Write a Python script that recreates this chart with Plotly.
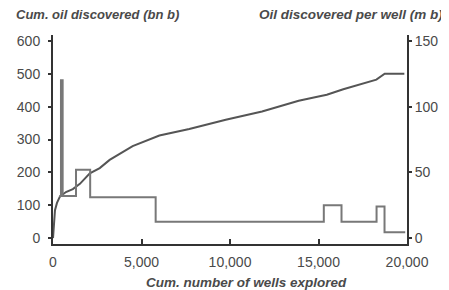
import plotly.graph_objects as go

# Cumulative oil discovered (bn b) vs cumulative wells explored
cum_wells = [0, 56, 112, 225, 390, 730, 1120, 1520, 2080, 2640, 3200, 4500, 5620, 6010,
             7700, 8260, 9760, 11810, 13600, 13880, 15000, 15470, 16400, 18270, 18740, 19850]
cum_oil = [0, 55, 85, 107, 126, 140, 149, 165, 197, 213, 238, 280, 303, 312,
           332, 340, 360, 385, 413, 418, 431, 436, 453, 482, 500, 500]

# Oil discovered per well (m b), step series
step_wells = [350, 450, 545, 1300, 2100, 5800, 15300, 16300, 18280, 18730, 19900]
per_well = [32, 120, 32, 52, 31, 12.5, 25, 12.5, 24, 4.5, 4.5]

x_tickvals = [0, 5000, 10000, 15000, 20000]
x_ticktext = ["0", "5,000", "10,000", "15,000", "20,000"]
y1_tickvals = [0, 100, 200, 300, 400, 500, 600]
y2_tickvals = [0, 50, 100, 150]

font_col = "#4a4a4a"
axis_col = "#333333"
FAM = "Liberation Sans, Arial, sans-serif"

# page body has an 8px margin: figure spans window x 8..449, y 8..290
W, H = 441, 282
L, R, T, B = 45, 42, 27, 46
PW = W - L - R

fig = go.Figure()
fig.add_trace(go.Scatter(x=cum_wells, y=cum_oil, mode="lines",
                         line=dict(color="#555555", width=2), yaxis="y"))
fig.add_trace(go.Scatter(x=step_wells, y=per_well, mode="lines", line_shape="hv",
                         line=dict(color="#787878", width=2), yaxis="y2"))

tickfont = dict(family=FAM, size=14, color=font_col)
titlefont = dict(family=FAM, size=13.5, color=font_col)

fig.update_layout(
    width=W, height=H,
    margin=dict(l=L, r=R, t=T, b=B, autoexpand=False),
    paper_bgcolor="white", plot_bgcolor="white",
    showlegend=False,
    xaxis=dict(range=[0, 20000], tickvals=x_tickvals, ticktext=x_ticktext,
               showline=True, linecolor=axis_col, linewidth=2,
               ticks="inside", ticklen=5, tickwidth=2, tickcolor=axis_col,
               showgrid=False, zeroline=False, tickfont=tickfont, automargin=False,
               ticklabelstandoff=4),
    yaxis=dict(range=[-18, 618], tickvals=y1_tickvals,
               showline=True, linecolor=axis_col, linewidth=2,
               ticks="outside", ticklen=3, tickwidth=2, tickcolor=axis_col,
               showgrid=False, zeroline=False, tickfont=tickfont, automargin=False,
               ticklabelstandoff=5),
    yaxis2=dict(range=[-4.5, 154.5], tickvals=y2_tickvals, overlaying="y", side="right",
                showline=True, linecolor=axis_col, linewidth=2,
                ticks="outside", ticklen=3, tickwidth=2, tickcolor=axis_col,
                showgrid=False, zeroline=False, tickfont=tickfont, automargin=False),
    annotations=[
        dict(text="<b><i>Cum. oil discovered (bn b)</i></b>", xref="paper", yref="paper",
             x=(6 - L) / PW, y=1, yshift=21, xanchor="left", yanchor="middle", showarrow=False,
             font=dict(family=FAM, size=13, color=font_col)),
        dict(text="<b><i>Oil discovered per well (m b)</i></b>", xref="paper", yref="paper",
             x=(249 - L) / PW, y=1, yshift=21, xanchor="left", yanchor="middle", showarrow=False,
             font=titlefont),
        dict(text="<b><i>Cum. number of wells explored</i></b>", xref="paper", yref="paper",
             x=(239 - L) / PW, y=0, yshift=-38, xanchor="center", yanchor="middle", showarrow=False,
             font=titlefont),
    ],
)

fig.write_html("out.html")
